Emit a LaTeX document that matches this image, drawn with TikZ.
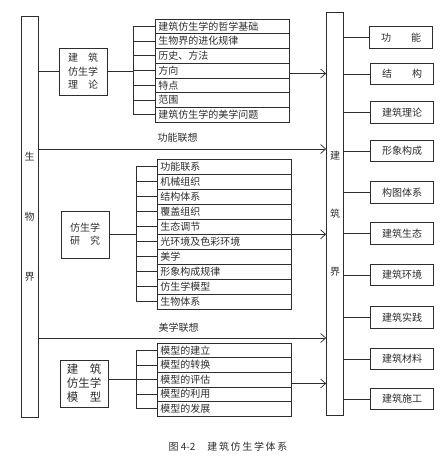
\documentclass[tikz,border=0pt]{standalone}
\usepackage{fontspec}
\setmainfont{Noto Sans CJK SC}
\usepackage{tikz}
\usetikzlibrary{arrows.meta, positioning, calc}
\definecolor{inkgray}{RGB}{45, 45, 45}
\tikzset{
  >=Straight Barb,
  flowarrow/.style={-{Straight Barb[length=5pt, width=9pt]}, line width=0.7pt, inkgray},
  linkline/.style={line width=0.7pt, inkgray}
}

\begin{document}
\begin{tikzpicture}[x=1pt, y=-1pt,
    barbox/.style={rectangle, draw=inkgray, line width=0.7pt, minimum width=17pt, align=center, font=\fontsize{10}{12}\selectfont, text=inkgray},
    groupbox/.style={rectangle, draw=inkgray, line width=0.8pt, minimum width=48pt, minimum height=47pt, inner sep=1pt, align=center, text=inkgray},
    rowbox/.style={rectangle, draw=inkgray, line width=0.6pt, anchor=west, text width=128pt, inner xsep=3pt, inner ysep=0.5pt, align=left, font=\fontsize{10}{11}\selectfont, text=inkgray},
    fieldbox/.style={rectangle, draw=inkgray, line width=0.8pt, minimum width=63pt, minimum height=21.5pt, inner sep=1pt, font=\fontsize{10}{12}\selectfont, text=inkgray},
    tagtext/.style={anchor=west, font=\fontsize{10}{12}\selectfont, text=inkgray}
]
    \useasboundingbox (0,0) rectangle (447,458);

    % Two side bars
    \node[barbox, minimum height=401pt] (swj) at (29.5,216.5) {生\\[48pt]物\\[48pt]界};
    \node[barbox, minimum height=403pt] (jzj) at (335,213.5) {建\\[46pt]筑\\[46pt]界};

    % Group 1: theory
    \node[groupbox, font=\fontsize{10}{13.5}\selectfont] (bl) at (83,71.5) {建\hspace{1em}筑\\仿生学\\理\hspace{1em}论};
    \node[rowbox, minimum height=14.7pt] (a1) at (155,26.4) {建筑仿生学的哲学基础};
    \node[rowbox, minimum height=14.7pt] (a2) at (155,41.1) {生物界的进化规律};
    \node[rowbox, minimum height=14.7pt] (a3) at (155,55.8) {历史、方法};
    \node[rowbox, minimum height=14.7pt] (a4) at (155,70.5) {方向};
    \node[rowbox, minimum height=14.7pt] (a5) at (155,85.2) {特点};
    \node[rowbox, minimum height=14.7pt] (a6) at (155,99.9) {范围};
    \node[rowbox, minimum height=14.7pt] (a7) at (155,114.6) {建筑仿生学的美学问题};
    \coordinate (k1) at (133,71.5);

    \draw[linkline] (swj.east |- bl.west) -- (bl.west);
    \draw[linkline] (bl.east) -- (k1);
    \draw[linkline] (a1.west -| k1) -- (a7.west -| k1);
    \draw[linkline] (a1.west -| k1) -- (a1.west);
    \draw[linkline] (a2.west -| k1) -- (a2.west);
    \draw[linkline] (a3.west -| k1) -- (a3.west);
    \draw[linkline] (a4.west -| k1) -- (a4.west);
    \draw[linkline] (a5.west -| k1) -- (a5.west);
    \draw[linkline] (a6.west -| k1) -- (a6.west);
    \draw[linkline] (a7.west -| k1) -- (a7.west);
    \draw[flowarrow] ([yshift=-3pt]a4.east) -- ([yshift=-3pt]a4.east -| jzj.west);

    % Function association
    \node[tagtext] (gnlx) at (154,138) {功能联想};
    \coordinate (l1) at (38,149);
    \draw[flowarrow] (l1) -- (l1 -| jzj.west);

    % Group 2: research
    \node[groupbox, font=\fontsize{10}{13}\selectfont] (yj) at (85,234.5) {仿生学\\研\hspace{1em}究};
    \node[rowbox, minimum height=15pt] (b1) at (157,166.5) {功能联系};
    \node[rowbox, minimum height=15pt] (b2) at (157,181.5) {机械组织};
    \node[rowbox, minimum height=15pt] (b3) at (157,196.5) {结构体系};
    \node[rowbox, minimum height=15pt] (b4) at (157,211.5) {覆盖组织};
    \node[rowbox, minimum height=15pt] (b5) at (157,226.5) {生态调节};
    \node[rowbox, minimum height=15pt] (b6) at (157,241.5) {光环境及色彩环境};
    \node[rowbox, minimum height=15pt] (b7) at (157,256.5) {美学};
    \node[rowbox, minimum height=15pt] (b8) at (157,271.5) {形象构成规律};
    \node[rowbox, minimum height=15pt] (b9) at (157,286.5) {仿生学模型};
    \node[rowbox, minimum height=15pt] (b10) at (157,301.5) {生物体系};
    \coordinate (k2) at (136,234.5);

    \draw[linkline] (yj.east) -- (k2);
    \draw[linkline] (b1.west -| k2) -- (b10.west -| k2);
    \draw[linkline] (b1.west -| k2) -- (b1.west);
    \draw[linkline] (b2.west -| k2) -- (b2.west);
    \draw[linkline] (b3.west -| k2) -- (b3.west);
    \draw[linkline] (b4.west -| k2) -- (b4.west);
    \draw[linkline] (b5.west -| k2) -- (b5.west);
    \draw[linkline] (b6.west -| k2) -- (b6.west);
    \draw[linkline] (b7.west -| k2) -- (b7.west);
    \draw[linkline] (b8.west -| k2) -- (b8.west);
    \draw[linkline] (b9.west -| k2) -- (b9.west);
    \draw[linkline] (b10.west -| k2) -- (b10.west);
    \draw[flowarrow] (b5.south east) -- (b5.south east -| jzj.west);

    % Aesthetic association
    \node[tagtext] (mxlx) at (155,328) {美学联想};
    \coordinate (l2) at (38,338);
    \draw[flowarrow] (l2) -- (l2 -| jzj.west);

    % Group 3: model
    \node[groupbox, font=\fontsize{11.5}{14}\selectfont] (mx) at (84,383.5) {建\hspace{1em}筑\\仿生学\\模\hspace{1em}型};
    \node[rowbox, minimum height=14.6pt] (c1) at (157,350.3) {模型的建立};
    \node[rowbox, minimum height=14.6pt] (c2) at (157,364.9) {模型的转换};
    \node[rowbox, minimum height=14.6pt] (c3) at (157,379.5) {模型的评估};
    \node[rowbox, minimum height=14.6pt] (c4) at (157,394.1) {模型的利用};
    \node[rowbox, minimum height=14.6pt] (c5) at (157,408.7) {模型的发展};
    \coordinate (k3) at (136,379.5);

    \draw[linkline] (mx.east |- k3) -- (k3);
    \draw[linkline] (c1.west -| k3) -- (c5.west -| k3);
    \draw[linkline] (c1.west -| k3) -- (c1.west);
    \draw[linkline] (c2.west -| k3) -- (c2.west);
    \draw[linkline] (c3.west -| k3) -- (c3.west);
    \draw[linkline] (c4.west -| k3) -- (c4.west);
    \draw[linkline] (c5.west -| k3) -- (c5.west);
    \draw[flowarrow] ([yshift=-4pt]c3.east) -- ([yshift=-4pt]c3.east -| jzj.west);

    % Architecture fields
    \node[fieldbox] (g1) at (401,37.5) {功\hspace{2em}能};
    \node[fieldbox] (g2) at (402,74) {结\hspace{2em}构};
    \node[fieldbox] (g3) at (402,112.5) {建筑理论};
    \node[fieldbox] (g4) at (402,151) {形象构成};
    \node[fieldbox] (g5) at (402,192.5) {构图体系};
    \node[fieldbox] (g6) at (402,233.5) {建筑生态};
    \node[fieldbox] (g7) at (402,275) {建筑环境};
    \node[fieldbox] (g8) at (402,317.5) {建筑实践};
    \node[fieldbox] (g9) at (402,359) {建筑材料};
    \node[fieldbox] (g10) at (402,399) {建筑施工};

    \draw[linkline] (jzj.east |- g1.west) -- (g1.west);
    \draw[linkline] (jzj.east |- g2.west) -- (g2.west);
    \draw[linkline] (jzj.east |- g3.west) -- (g3.west);
    \draw[linkline] (jzj.east |- g4.west) -- (g4.west);
    \draw[linkline] (jzj.east |- g5.west) -- (g5.west);
    \draw[linkline] (jzj.east |- g6.west) -- (g6.west);
    \draw[linkline] (jzj.east |- g7.west) -- (g7.west);
    \draw[linkline] (jzj.east |- g8.west) -- (g8.west);
    \draw[linkline] (jzj.east |- g9.west) -- (g9.west);
    \draw[linkline] (jzj.east |- g10.west) -- (g10.west);

    % Caption
    \node[font=\fontsize{10}{12}\selectfont, text=inkgray] (cap) at (228,447) {图 4-2\hspace{1.2em}建\,筑\,仿\,生\,学\,体\,系};
\end{tikzpicture}
\end{document}
